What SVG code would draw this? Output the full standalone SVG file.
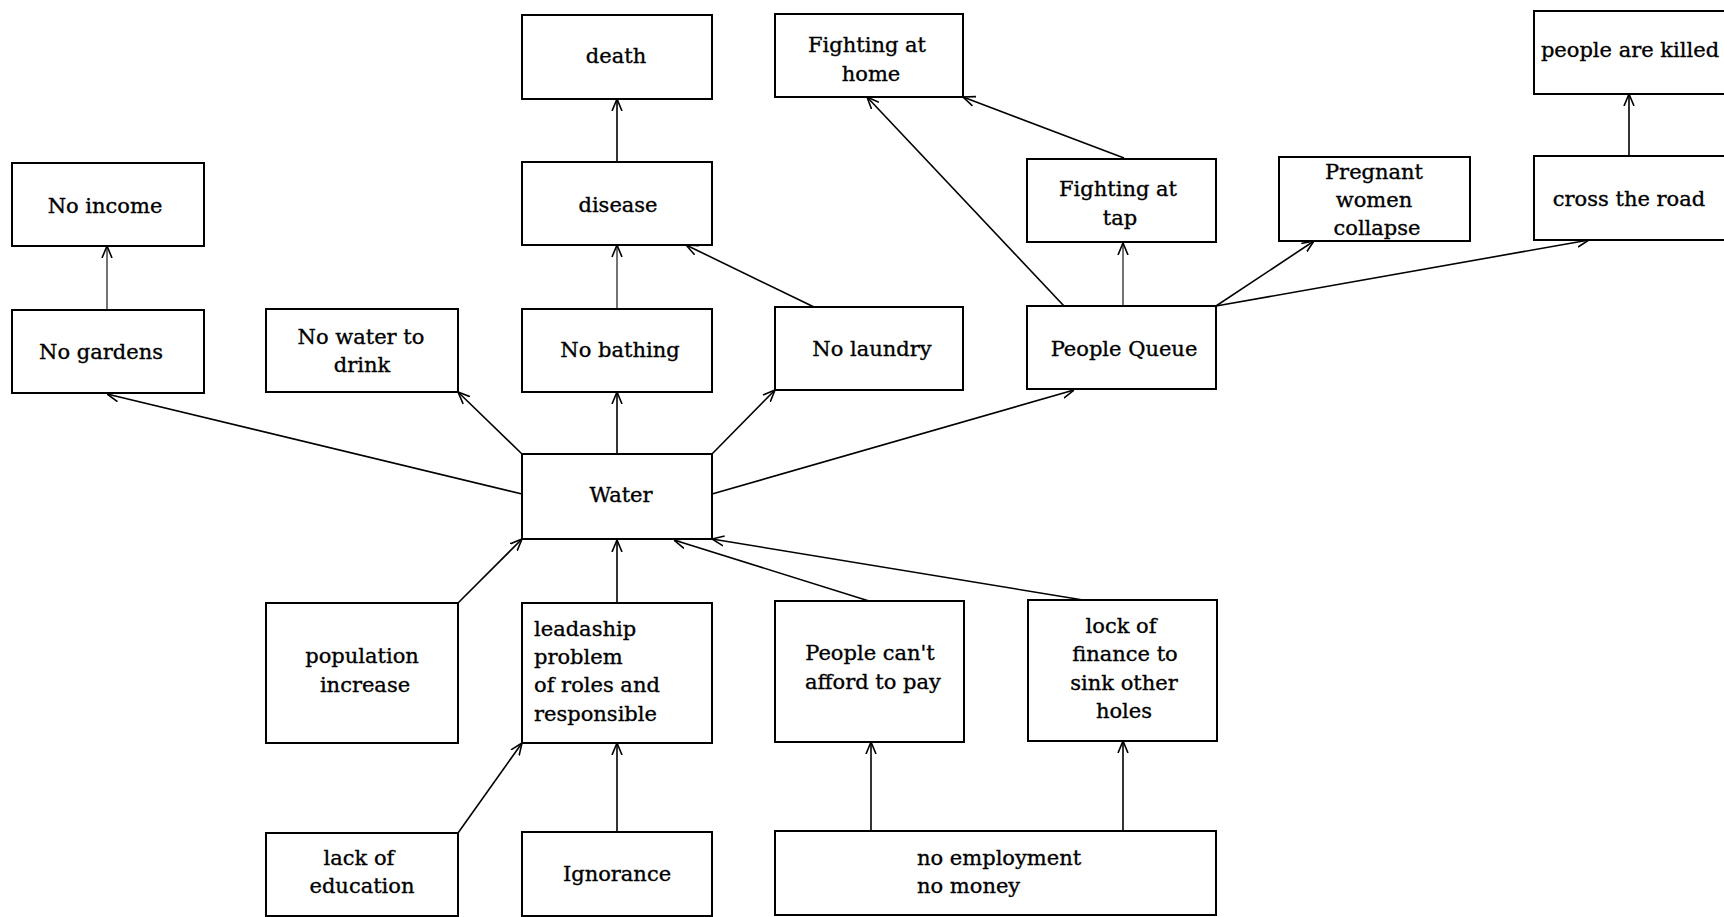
<svg xmlns="http://www.w3.org/2000/svg" width="1724" height="917" viewBox="0 0 1724 917">
<style>
.box{fill:#fff;stroke:#000;stroke-width:2}
.t{font-family:"DejaVu Serif","Liberation Serif",serif;font-size:21px;fill:#000;stroke:#000;stroke-width:0.35;text-anchor:middle}
.l{text-anchor:start}
.c{stroke:#000;stroke-width:1.6;fill:none;marker-end:url(#arr)}
.thin{stroke-width:1.1}
</style>
<defs>
<marker id="arr" viewBox="0 0 12 12" refX="12" refY="6" markerWidth="12" markerHeight="12" markerUnits="userSpaceOnUse" orient="auto">
<path d="M0,1 L12,6 L0,11" fill="none" stroke="#000" stroke-width="1.6"/>
</marker>
</defs>
<rect width="1724" height="917" fill="#fff"/>
<g id="connectors">
<line class="c thin" x1="107" y1="310" x2="107" y2="246"/>
<line class="c" x1="522" y1="494" x2="107" y2="394"/>
<line class="c" x1="522" y1="454" x2="458" y2="392"/>
<line class="c" x1="617" y1="454" x2="617" y2="392"/>
<line class="c" x1="712" y1="454" x2="775" y2="390"/>
<line class="c" x1="712" y1="494" x2="1074" y2="390"/>
<line class="c thin" x1="617" y1="309" x2="617" y2="245"/>
<line class="c" x1="814" y1="307" x2="686" y2="245"/>
<line class="c" x1="617" y1="162" x2="617" y2="99"/>
<line class="c" x1="1064" y1="306" x2="867" y2="97"/>
<line class="c" x1="1124" y1="158" x2="963" y2="97"/>
<line class="c thin" x1="1123" y1="306" x2="1123" y2="243"/>
<line class="c" x1="1216" y1="306" x2="1314" y2="241"/>
<line class="c" x1="1216" y1="306" x2="1589" y2="240"/>
<line class="c" x1="1629" y1="156" x2="1629" y2="94"/>
<line class="c" x1="458" y1="603" x2="522" y2="539"/>
<line class="c" x1="617" y1="603" x2="617" y2="540"/>
<line class="c" x1="869" y1="601" x2="674" y2="540"/>
<line class="c" x1="1083" y1="600" x2="712" y2="539"/>
<line class="c" x1="458" y1="833" x2="522" y2="743"/>
<line class="c" x1="617" y1="832" x2="617" y2="743"/>
<line class="c" x1="871" y1="831" x2="871" y2="742"/>
<line class="c" x1="1123" y1="831" x2="1123" y2="741"/>
</g>
<g id="no-income"><rect class="box" x="12" y="163" width="192" height="83"/><text class="t" x="105" y="213">No income</text></g>
<g id="no-gardens"><rect class="box" x="12" y="310" width="192" height="83"/><text class="t" x="101" y="359">No gardens</text></g>
<g id="no-water-drink"><rect class="box" x="266" y="309" width="192" height="83"/><text class="t" x="361" y="344">No water to</text><text class="t" x="362" y="372">drink</text></g>
<g id="death"><rect class="box" x="522" y="15" width="190" height="84"/><text class="t" x="616" y="63">death</text></g>
<g id="disease"><rect class="box" x="522" y="162" width="190" height="83"/><text class="t" x="618" y="212">disease</text></g>
<g id="fighting-home"><rect class="box" x="775" y="14" width="188" height="83"/><text class="t" x="867" y="52">Fighting at</text><text class="t" x="871" y="81">home</text></g>
<g id="no-bathing"><rect class="box" x="522" y="309" width="190" height="83"/><text class="t" x="620" y="357">No bathing</text></g>
<g id="no-laundry"><rect class="box" x="775" y="307" width="188" height="83"/><text class="t" x="872" y="356">No laundry</text></g>
<g id="people-queue"><rect class="box" x="1027" y="306" width="189" height="83"/><text class="t" x="1124" y="356">People Queue</text></g>
<g id="fighting-tap"><rect class="box" x="1027" y="159" width="189" height="83"/><text class="t" x="1118" y="196">Fighting at</text><text class="t" x="1120" y="225">tap</text></g>
<g id="pregnant"><rect class="box" x="1279" y="157" width="191" height="84"/><text class="t" x="1374" y="179">Pregnant</text><text class="t" x="1374" y="207">women</text><text class="t" x="1377" y="235">collapse</text></g>
<g id="people-killed"><rect class="box" x="1534" y="11" width="200" height="83"/><text class="t" x="1630" y="57">people are killed</text></g>
<g id="cross-road"><rect class="box" x="1534" y="156" width="200" height="84"/><text class="t" x="1629" y="206">cross the road</text></g>
<g id="water"><rect class="box" x="522" y="454" width="190" height="85"/><text class="t" x="621" y="502">Water</text></g>
<g id="population"><rect class="box" x="266" y="603" width="192" height="140"/><text class="t" x="362" y="663">population</text><text class="t" x="365" y="692">increase</text></g>
<g id="leadaship"><rect class="box" x="522" y="603" width="190" height="140"/><text class="t l" x="534" y="636">leadaship</text><text class="t l" x="534" y="664">problem</text><text class="t l" x="534" y="692">of roles and</text><text class="t l" x="534" y="721">responsible</text></g>
<g id="cant-afford"><rect class="box" x="775" y="601" width="189" height="141"/><text class="t" x="870" y="660">People can't</text><text class="t" x="873" y="689">afford to pay</text></g>
<g id="lock-finance"><rect class="box" x="1028" y="600" width="189" height="141"/><text class="t" x="1121" y="633">lock of</text><text class="t" x="1125" y="661">finance to</text><text class="t" x="1124" y="690">sink other</text><text class="t" x="1124" y="718">holes</text></g>
<g id="lack-education"><rect class="box" x="266" y="833" width="192" height="83"/><text class="t" x="359" y="865">lack of</text><text class="t" x="362" y="893">education</text></g>
<g id="ignorance"><rect class="box" x="522" y="832" width="190" height="84"/><text class="t" x="617" y="881">Ignorance</text></g>
<g id="no-employment"><rect class="box" x="775" y="831" width="441" height="84"/><text class="t l" x="917" y="865">no employment</text><text class="t l" x="917" y="893">no money</text></g>
</svg>
